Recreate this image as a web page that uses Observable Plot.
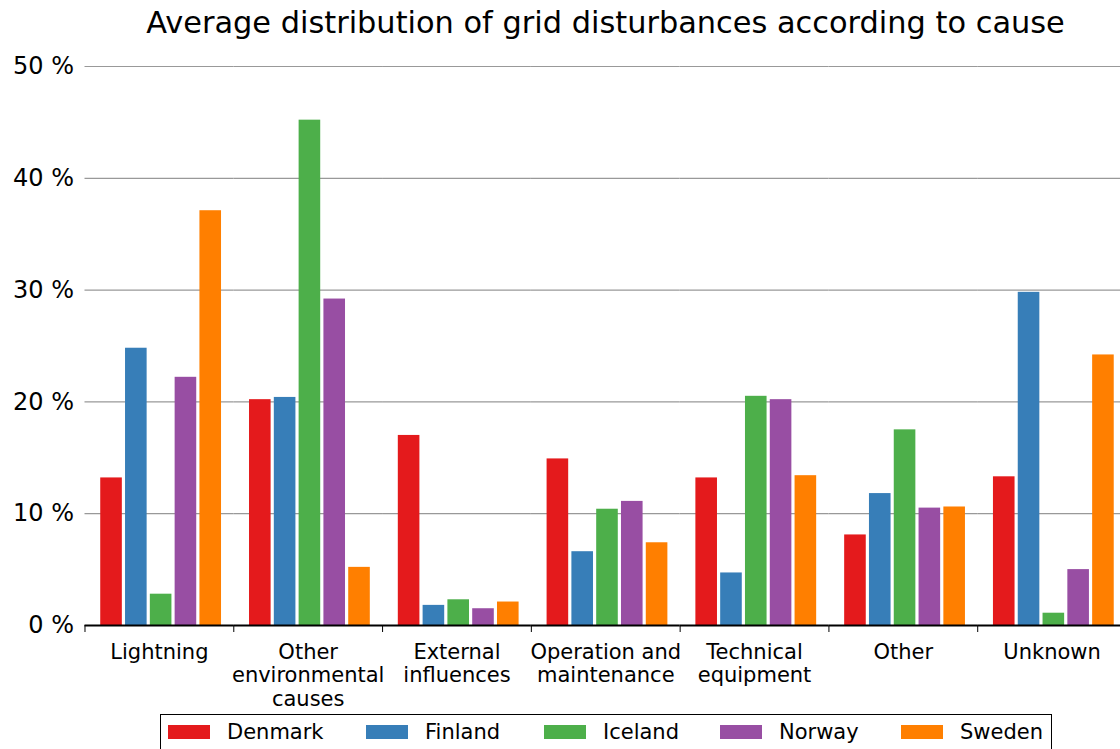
<!DOCTYPE html>
<html>
<head>
<meta charset="utf-8">
<script src="https://cdn.jsdelivr.net/npm/d3@7"></script>
<script src="https://cdn.jsdelivr.net/npm/@observablehq/plot@0.6"></script>
<style>
  html, body { margin: 0; padding: 0; background: #fff; overflow: hidden; width: 1120px; height: 749px; }
  body { font-family: "DejaVu Sans", sans-serif; color: #000; }
  #title { height: 46px; margin-left: 85px; width: 1041px; text-align: center; font-size: 30.4px; line-height: 46px; white-space: nowrap; }
  #chart svg { display: block; max-width: none; }
  #legend { position: absolute; left: 160px; top: 714px; width: 892px; height: 60px; box-sizing: border-box;
            border: 1.5px solid #000; font-size: 21px; }
  .item { position: absolute; top: 5px; display: flex; align-items: center; white-space: nowrap; }
  .sw { width: 42px; height: 14px; margin-right: 17px; }
</style>
</head>
<body>
<div id="title">Average distribution of grid disturbances according to cause</div>
<div id="chart"></div>
<div id="legend"></div>
<script>
const causes = ["Lightning", "Other\nenvironmental\ncauses", "External\ninfluences", "Operation and\nmaintenance", "Technical\nequipment", "Other", "Unknown"];
const countries = ["Denmark", "Finland", "Iceland", "Norway", "Sweden"];
const colors = ["#e41a1c", "#377eb8", "#4daf4a", "#984ea3", "#ff7f00"];
const denmark = [13.2, 20.2, 17.0, 14.9, 13.2, 8.1, 13.3];
const finland = [24.8, 20.4, 1.8, 6.6, 4.7, 11.8, 29.8];
const iceland = [2.8, 45.2, 2.3, 10.4, 20.5, 17.5, 1.1];
const norway = [22.2, 29.2, 1.5, 11.1, 20.2, 10.5, 5.0];
const sweden = [37.1, 5.2, 2.1, 7.4, 13.4, 10.6, 24.2];
const yTicks = [0, 10, 20, 30, 40, 50];

const series = [denmark, finland, iceland, norway, sweden];
const data = [];
causes.forEach((c, i) => countries.forEach((k, j) => data.push({cause: c, country: k, value: series[j][i]})));

const W = 1126, ML = 84.5;
const step = (W - ML) / causes.length;

const plot = Plot.plot({
  width: W,
  height: 666,
  marginLeft: ML,
  marginRight: 0,
  marginTop: 20,
  marginBottom: 87,
  style: {fontFamily: "DejaVu Sans", fontSize: "21px", color: "#000", background: "transparent", maxWidth: "none"},
  fx: {domain: causes, padding: 0, round: false, label: null},
  x: {domain: countries, paddingInner: 0, paddingOuter: 0.5, align: 0.57, round: false, axis: null},
  y: {domain: [0, 50], label: null},
  color: {domain: countries, range: colors},
  marks: [
    Plot.gridY(yTicks.filter(d => d > 0), {stroke: "#999", strokeOpacity: 1, strokeWidth: 1.2}),
    Plot.barY(data, {fx: "cause", x: "country", y: "value", fill: "country", insetLeft: 1.6, insetRight: 1.6}),
    Plot.ruleY([0], {stroke: "#000", strokeWidth: 2}),
    Plot.axisY({ticks: yTicks, tickFormat: d => `${d} %`, tickSize: 0, tickPadding: 11, fontSize: 24, label: null}),
    Plot.axisFx({anchor: "bottom", tickSize: 0, tickPadding: 16.5, fontSize: 21, lineHeight: 1.12, label: null}),
    Plot.axisFx({anchor: "bottom", tickSize: 7, tickFormat: () => "", dx: -step / 2, label: null, stroke: "#000"})
  ]
});
document.getElementById("chart").appendChild(plot);

const legendLeft = [7, 205, 383, 559, 740];
const legend = document.getElementById("legend");
countries.forEach((k, j) => {
  const it = document.createElement("div");
  it.className = "item";
  it.style.left = legendLeft[j] + "px";
  const sw = document.createElement("div");
  sw.className = "sw";
  sw.style.background = colors[j];
  const tx = document.createElement("span");
  tx.textContent = k;
  it.appendChild(sw); it.appendChild(tx);
  legend.appendChild(it);
});
</script>
</body>
</html>
